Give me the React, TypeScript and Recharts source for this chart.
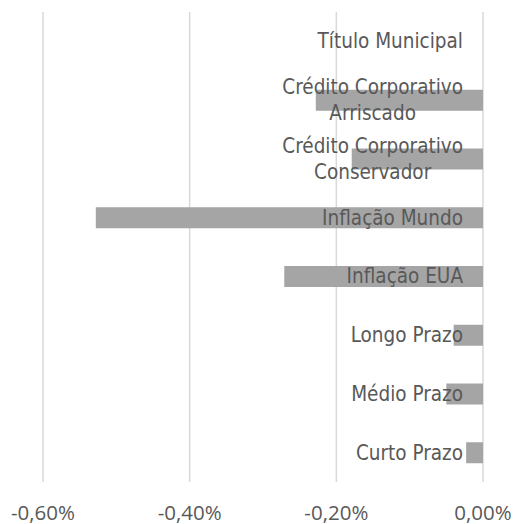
import React from 'react';
import { BarChart, Bar, XAxis, YAxis, CartesianGrid } from 'recharts';

const categories = [
  'Título Municipal',
  'Crédito Corporativo\nArriscado',
  'Crédito Corporativo\nConservador',
  'Inflação Mundo',
  'Inflação EUA',
  'Longo Prazo',
  'Médio Prazo',
  'Curto Prazo',
];

// values in percent
const values = [0, -0.228, -0.179, -0.528, -0.271, -0.04, -0.05, -0.023];

const xTicks = [-0.6, -0.4, -0.2, 0];

const data = categories.map((name, i) => ({ name, value: values[i] }));

const LABEL_FONT = '"DejaVu Sans Condensed", "Liberation Sans Narrow", sans-serif';
const LABEL_SIZE = 20.5;
const TEXT = '#595959';

let ctx: CanvasRenderingContext2D | null = null;
const measure = (s: string) => {
  if (!ctx) ctx = document.createElement('canvas').getContext('2d');
  if (!ctx) return s.length * LABEL_SIZE * 0.45;
  ctx.font = `${LABEL_SIZE}px ${LABEL_FONT}`;
  return ctx.measureText(s).width;
};

const fmt = (v: number) => `${v.toFixed(2).replace('.', ',').replace('-0,00', '0,00')}%`;

const ValueTick = (props: any) => {
  const { x, y, payload } = props;
  return (
    <text
      x={x}
      y={y}
      textAnchor="middle"
      dominantBaseline="central"
      fill={TEXT}
      fontSize={20.5}
      fontFamily='"Open Sans", sans-serif'
    >
      {fmt(payload.value)}
    </text>
  );
};

// category labels drawn by the right axis, right-aligned just left of the zero line
const CategoryTick = (props: any) => {
  const { x, y, payload } = props;
  const right = x - 20;
  const lines = String(payload.value).split('\n');
  const w = Math.max(...lines.map(measure));
  const cx = right - w / 2;
  const lh = 26;
  const top = y - ((lines.length - 1) * lh) / 2;
  return (
    <text
      textAnchor="middle"
      fill={TEXT}
      fontFamily={LABEL_FONT}
      fontSize={LABEL_SIZE}
      dominantBaseline="central"
    >
      {lines.map((l, i) => (
        <tspan key={i} x={cx} y={top + i * lh}>
          {l}
        </tspan>
      ))}
    </text>
  );
};

export default function App() {
  return (
    <div style={{ position: 'absolute', left: 0, top: 0, background: '#fff' }}>
      <BarChart
        width={516}
        height={524}
        data={data}
        layout="vertical"
        margin={{ top: 12, right: 0, bottom: 0, left: 43 }}
        barCategoryGap={0}
      >
        <CartesianGrid horizontal={false} stroke="#d9d9d9" strokeWidth={1.5} />
        <XAxis
          type="number"
          domain={[-0.6, 0]}
          ticks={xTicks}
          axisLine={false}
          tickLine={false}
          height={42}
          tickSize={0}
          tickMargin={30}
          tick={<ValueTick />}
          interval={0}
        />
        <YAxis
          type="category"
          dataKey="name"
          orientation="right"
          width={33}
          axisLine={false}
          tickLine={false}
          tickSize={0}
          tickMargin={0}
          interval={0}
          tick={<CategoryTick />}
        />
        <Bar dataKey="value" fill="#a5a5a5" barSize={21} isAnimationActive={false} />
      </BarChart>
    </div>
  );
}
